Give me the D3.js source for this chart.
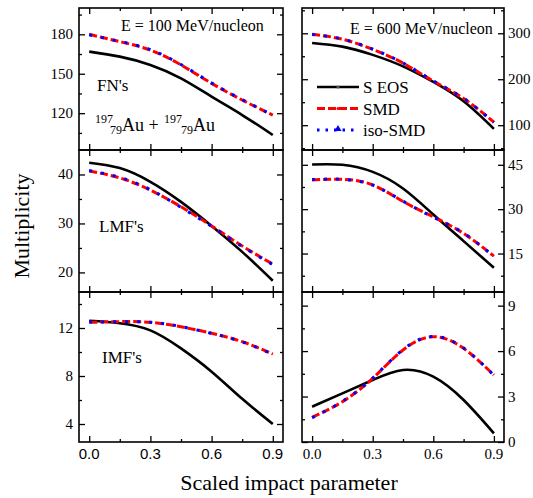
<!DOCTYPE html>
<html lang="en">
<head>
<meta charset="UTF-8">
<title>Multiplicity vs scaled impact parameter</title>
<script src="https://d3js.org/d3.v7.min.js"></script>
<style>
  body { margin: 0; background: #fff; }
  svg text { font-family: "Liberation Serif", "Times New Roman", serif; fill: #000; }
  .sans { font-family: "Liberation Sans", Arial, sans-serif !important; }
</style>
</head>
<body>
<svg id="chart" width="533" height="498"></svg>
<script>
// scaled impact parameter
const bVals = [0, 0.15, 0.3, 0.45, 0.6, 0.75, 0.9];

// FN's
const fn100Seos = [166.8, 163.0, 156.7, 146.5, 132.6, 118.6, 103.4];
const fn100Smd  = [180.0, 174.4, 168.0, 156.7, 142.7, 130.0, 118.6];
const fn100Iso  = [179.6, 174.6, 168.3, 157.0, 143.0, 130.3, 118.4];
const fn600Seos = [279.0, 271.0, 253.0, 228.0, 194.0, 152.0, 92.0];
const fn600Smd  = [298.0, 287.0, 265.0, 235.0, 196.0, 158.0, 106.5];
const fn600Iso  = [297.5, 287.5, 265.5, 235.5, 196.5, 158.5, 106.0];

// LMF's
const lmf100Seos = [42.4, 41.3, 38.5, 34.4, 29.5, 24.2, 18.3];
const lmf100Smd  = [40.7, 39.3, 36.8, 33.4, 29.5, 25.4, 21.7];
const lmf100Iso  = [40.8, 39.4, 36.9, 33.3, 29.4, 25.3, 21.6];
const lmf600Seos = [45.1, 45.0, 42.6, 37.0, 28.2, 19.2, 10.2];
const lmf600Smd  = [39.9, 40.1, 38.2, 32.6, 27.4, 21.8, 14.1];
const lmf600Iso  = [40.0, 40.1, 38.1, 32.7, 27.3, 21.9, 14.0];

// IMF's
const imf100Seos = [12.6, 12.4, 11.8, 10.3, 8.36, 6.1, 4.0];
const imf100Smd  = [12.47, 12.53, 12.47, 12.1, 11.56, 10.86, 9.83];
const imf100Iso  = [12.5, 12.52, 12.48, 12.12, 11.55, 10.85, 9.8];
const imf600Seos = [2.33, 3.21, 4.09, 4.75, 4.31, 2.77, 0.57];
const imf600Smd  = [1.63, 2.66, 4.2, 6.07, 6.95, 6.18, 4.42];
const imf600Iso  = [1.6, 2.68, 4.22, 6.1, 6.97, 6.2, 4.4];

const seriesNames = ["S EOS", "SMD", "iso-SMD"];
const xTicks = [0, 0.3, 0.6, 0.9];
const xMinor = [0.15, 0.45, 0.75];

const panels = [
  { col: 0, row: 0, domain: [92, 200], ticks: [120, 150, 180], minor: [105, 135, 165, 195], data: [fn100Seos, fn100Smd, fn100Iso] },
  { col: 1, row: 0, domain: [46, 355], ticks: [100, 200, 300], minor: [50, 150, 250, 350], data: [fn600Seos, fn600Smd, fn600Iso] },
  { col: 0, row: 1, domain: [16, 45], ticks: [20, 30, 40], minor: [25, 35], data: [lmf100Seos, lmf100Smd, lmf100Iso] },
  { col: 1, row: 1, domain: [2, 50], ticks: [15, 30, 45], minor: [7.5, 22.5, 37.5], data: [lmf600Seos, lmf600Smd, lmf600Iso] },
  { col: 0, row: 2, domain: [2.5, 15], ticks: [4, 8, 12], minor: [6, 10, 14], data: [imf100Seos, imf100Smd, imf100Iso] },
  { col: 1, row: 2, domain: [0, 9.9], ticks: [0, 3, 6, 9], minor: [1.5, 4.5, 7.5], data: [imf600Seos, imf600Smd, imf600Iso] }
];

// layout
const cols = [{ x0: 79, x1: 283 }, { x0: 302, x1: 504 }];
const rows = [{ y0: 8, y1: 150 }, { y0: 150, y1: 292 }, { y0: 292, y1: 442 }];
const styles = [
  { color: "#000", width: 2.6, dash: null },
  { color: "#ff0000", width: 3, dash: "8,3" },
  { color: "#0000ff", width: 3, dash: "3,9" }
];

const svg = d3.select("#chart");
const defs = svg.append("defs");

panels.forEach((p, i) => {
  const c = cols[p.col], r = rows[p.row];
  const x = d3.scaleLinear().domain([-0.05, 0.95]).range([c.x0, c.x1]);
  const y = d3.scaleLinear().domain(p.domain).range([r.y1, r.y0]);
  const g = svg.append("g");

  defs.append("clipPath").attr("id", "clip" + i)
    .append("rect").attr("x", c.x0).attr("y", r.y0)
    .attr("width", c.x1 - c.x0).attr("height", r.y1 - r.y0);

  // curves
  const line = d3.line()
    .x((d, k) => x(bVals[k]))
    .y(d => y(d))
    .curve(d3.curveNatural);
  p.data.forEach((vals, s) => {
    g.append("path")
      .attr("clip-path", `url(#clip${i})`)
      .attr("d", line(vals))
      .attr("fill", "none")
      .attr("stroke", styles[s].color)
      .attr("stroke-width", styles[s].width)
      .attr("stroke-dasharray", styles[s].dash);
  });

  // x ticks, top and bottom, inward
  const bottom = d3.axisBottom(x).tickValues(xTicks).tickSize(-6).tickFormat("");
  const top = d3.axisTop(x).tickValues(xTicks).tickSize(-6).tickFormat("");
  const bottomMinor = d3.axisBottom(x).tickValues(xMinor).tickSize(-3).tickFormat("");
  const topMinor = d3.axisTop(x).tickValues(xMinor).tickSize(-3).tickFormat("");
  [[bottom, r.y1], [top, r.y0], [bottomMinor, r.y1], [topMinor, r.y0]].forEach(([ax, yy]) => {
    g.append("g").attr("transform", `translate(0,${yy})`).call(ax)
      .call(a => a.select(".domain").remove())
      .selectAll("line").attr("stroke", "#000").attr("stroke-width", 1.3);
  });

  // y ticks, left and right, inward
  const left = d3.axisLeft(y).tickValues(p.ticks).tickSize(-6).tickFormat("");
  const right = d3.axisRight(y).tickValues(p.ticks).tickSize(-6).tickFormat("");
  const leftMinor = d3.axisLeft(y).tickValues(p.minor).tickSize(-3).tickFormat("");
  const rightMinor = d3.axisRight(y).tickValues(p.minor).tickSize(-3).tickFormat("");
  [[left, c.x0], [right, c.x1], [leftMinor, c.x0], [rightMinor, c.x1]].forEach(([ax, xx]) => {
    g.append("g").attr("transform", `translate(${xx},0)`).call(ax)
      .call(a => a.select(".domain").remove())
      .selectAll("line").attr("stroke", "#000").attr("stroke-width", 1.3);
  });

  // y tick labels
  g.selectAll(".ylab").data(p.ticks).enter().append("text")
    .attr("x", p.col === 0 ? c.x0 - 6 : c.x1 + 4)
    .attr("y", d => y(d) + 5)
    .attr("text-anchor", p.col === 0 ? "end" : "start")
    .style("font-size", "15px")
    .text(d => d);

  // x tick labels on bottom row
  if (p.row === 2) {
    g.selectAll(".xlab").data(xTicks).enter().append("text")
      .attr("class", p.col === 0 ? "sans" : null)
      .attr("x", d => x(d))
      .attr("y", r.y1 + 17)
      .attr("text-anchor", "middle")
      .style("font-size", "15px")
      .text(d => d.toFixed(1));
  }

  // frame
  g.append("rect")
    .attr("x", c.x0).attr("y", r.y0)
    .attr("width", c.x1 - c.x0).attr("height", r.y1 - r.y0)
    .attr("fill", "none").attr("stroke", "#000").attr("stroke-width", 1.6);
});

// annotations
const txt = (x, y, s, size, anchor) => svg.append("text")
  .attr("x", x).attr("y", y).attr("text-anchor", anchor || "start")
  .style("font-size", size + "px").text(s);

txt(121, 31, "E = 100 MeV/nucleon", 16);
txt(350, 34, "E = 600 MeV/nucleon", 16);
txt(97, 91, "FN's", 17);
txt(99, 232, "LMF's", 17);
txt(102, 363, "IMF's", 17);

// 197/79 Au + 197/79 Au as one text with shifted tspans
const nuc = svg.append("text");
[
  { x: 95, y: 123, s: "197", size: 12 },
  { x: 110, y: 134, s: "79", size: 12 },
  { x: 122, y: 131, s: "Au + ", size: 18 },
  { x: 164, y: 123, s: "197", size: 12 },
  { x: 181, y: 134, s: "79", size: 12 },
  { x: 193, y: 131, s: "Au", size: 18 }
].forEach(t => nuc.append("tspan").attr("x", t.x).attr("y", t.y)
  .style("font-size", t.size + "px").text(t.s));

// legend
const legendRows = [87, 108.5, 130];
seriesNames.forEach((name, s) => {
  const yy = legendRows[s];
  svg.append("line")
    .attr("x1", 317).attr("x2", 359).attr("y1", yy).attr("y2", yy)
    .attr("stroke", styles[s].color).attr("stroke-width", styles[s].width)
    .attr("stroke-dasharray", s === 2 ? "2.5,6" : styles[s].dash);
  if (s === 2) {
    svg.append("path").attr("d", d3.symbol(d3.symbolTriangle, 22)())
      .attr("transform", `translate(338,${yy - 1})`).attr("fill", styles[s].color);
  } else {
    svg.append("circle").attr("cx", 338).attr("cy", yy).attr("r", 1.6)
      .attr("fill", s === 0 ? "#555" : styles[s].color);
  }
  txt(363, yy + 6, name, 17);
});

// axis titles
txt(289, 490, "Scaled impact parameter", 22, "middle");
svg.append("text")
  .attr("transform", "translate(29,226) rotate(-90)")
  .attr("text-anchor", "middle")
  .style("font-size", "22px")
  .text("Multiplicity");
</script>
</body>
</html>
